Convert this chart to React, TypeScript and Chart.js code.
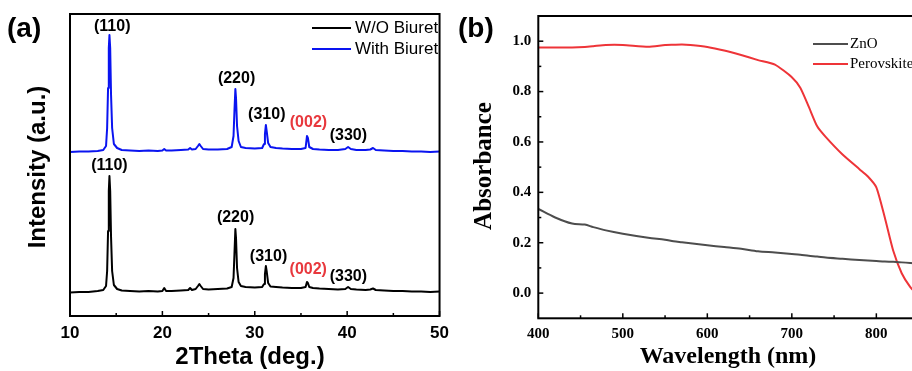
import React, { useEffect, useRef } from "react";
import { Chart, registerables } from "chart.js";

Chart.register(...registerables);

const SANS = "'Liberation Sans', Arial, Helvetica, sans-serif";
const SERIF = "'Liberation Serif', 'Times New Roman', Times, serif";

// ---------- Panel (a): XRD ----------
const xrdAngles = [10, 11, 12, 13, 13.6, 13.9, 14.02, 14.12, 14.2, 14.27, 14.35, 14.44, 14.56, 14.75, 15.1, 15.6, 16.5, 17.5, 18.5, 19.5, 20.0, 20.2, 20.4, 21, 22, 22.8, 23.0, 23.2, 23.6, 23.85, 24.0, 24.15, 24.4, 25, 26, 27, 27.5, 27.7, 27.8, 27.9, 27.97, 28.08, 28.25, 28.5, 29, 30, 30.8, 31.0, 31.1, 31.2, 31.3, 31.45, 31.7, 32.3, 33, 34, 35, 35.5, 35.65, 35.75, 35.9, 36.3, 37, 38, 39, 39.8, 40.1, 40.4, 41, 42, 42.5, 42.8, 43.1, 44, 45, 46, 47, 48, 49, 50];
const woBiuret = [23.5, 24, 24, 25, 26, 30, 45, 85, 125, 140, 125, 80, 45, 31, 27, 25.5, 25, 24.5, 25, 24.5, 25, 28, 25, 25, 25.5, 26, 28, 26, 27, 30, 32, 30, 27, 26.5, 27, 27.5, 29, 38, 62, 87, 78, 48, 34, 30, 29, 28.5, 29, 32, 42, 50, 44, 33, 29.5, 29, 28.5, 28, 28, 29, 34, 33, 29, 28, 27.5, 27, 26.5, 27, 29, 27, 26.5, 26, 26.5, 27.5, 26, 25.5, 25, 25, 24.5, 24.5, 24, 24.5];
const withBiuret = [164, 164.5, 164.5, 165, 166, 170, 188, 228, 268, 281, 268, 222, 188, 172, 168, 166, 165.5, 165, 165.5, 165, 165.5, 167, 165.5, 165.5, 166, 166.5, 168, 166.5, 167, 170, 172, 170, 167, 166.5, 166.5, 167, 169, 180, 205, 227, 218, 190, 175, 169, 168, 167.5, 168, 172, 182, 191, 184, 173, 169, 168, 167.5, 167, 167, 168, 180, 178, 169, 167, 166.5, 166, 166, 167, 169, 167, 166, 166, 166.5, 168, 166, 165.5, 165, 165, 164.5, 164.5, 164, 164.5];
const xrdSeriesNames = ["W/O Biuret", "With Biuret"];
const xrdSeriesColors = ["#000000", "#0a14f0"];
const xrdMajorTicks = [10, 20, 30, 40, 50];
const xrdMinorTicks = [15, 25, 35, 45];

const peakNames = ["(110)", "(220)", "(310)", "(002)", "(330)"];
const peakColors = ["#000000", "#000000", "#000000", "#e8383d", "#000000"];
const peakXWith = [14.57, 28.03, 31.3, 35.81, 40.13];
const peakYWith = [289.3, 237, 201.7, 193.3, 180];
const peakXWo = [14.27, 27.92, 31.49, 35.79, 40.13];
const peakYWo = [150, 98.7, 59.3, 46.7, 39.3];

// ---------- Panel (b): UV-vis ----------
const wavelengths = [400, 420, 440, 455, 465, 480, 500, 530, 550, 560, 570, 580, 600, 620, 640, 660, 680, 700, 710, 720, 730, 740, 760, 780, 790, 800, 810, 820, 830, 840, 850];
const znoAbs = [0.334, 0.3, 0.276, 0.272, 0.262, 0.249, 0.236, 0.22, 0.212, 0.206, 0.202, 0.198, 0.19, 0.183, 0.176, 0.166, 0.161, 0.155, 0.152, 0.148, 0.145, 0.141, 0.136, 0.131, 0.129, 0.127, 0.125, 0.124, 0.122, 0.12, 0.118];
const perovskiteAbs = [0.975, 0.975, 0.975, 0.977, 0.98, 0.985, 0.985, 0.978, 0.985, 0.986, 0.987, 0.985, 0.977, 0.963, 0.945, 0.925, 0.907, 0.857, 0.815, 0.74, 0.662, 0.62, 0.55, 0.492, 0.463, 0.42, 0.3, 0.168, 0.079, 0.025, -0.01];
const uvSeriesNames = ["ZnO", "Perovskite"];
const uvSeriesColors = ["#4d4d4d", "#ee3438"];
const uvXMajor = [400, 500, 600, 700, 800];
const uvXMinor = [450, 550, 650, 750, 850];
const uvYMajor = [0, 0.2, 0.4, 0.6, 0.8, 1.0];
const uvYMinor = [0.1, 0.3, 0.5, 0.7, 0.9];

function line(ctx: CanvasRenderingContext2D, x1: number, y1: number, x2: number, y2: number) {
  ctx.beginPath();
  ctx.moveTo(x1, y1);
  ctx.lineTo(x2, y2);
  ctx.stroke();
}

const xrdDecor = {
  id: "xrdDecor",
  afterDraw(chart: any) {
    const { ctx, chartArea: ca, scales } = chart;
    const x = scales.x, y = scales.y;
    ctx.save();
    ctx.strokeStyle = "#000";
    ctx.lineWidth = 2;
    ctx.strokeRect(ca.left, ca.top, ca.right - ca.left, ca.bottom - ca.top);
    ctx.lineWidth = 1.5;
    xrdMajorTicks.forEach((v) => { const p = x.getPixelForValue(v); line(ctx, p, ca.bottom, p, ca.bottom - 5); });
    xrdMinorTicks.forEach((v) => { const p = x.getPixelForValue(v); line(ctx, p, ca.bottom, p, ca.bottom - 3); });

    ctx.font = `bold 16px ${SANS}`;
    ctx.textAlign = "center";
    ctx.textBaseline = "middle";
    peakNames.forEach((n, i) => {
      ctx.fillStyle = peakColors[i];
      ctx.fillText(n, x.getPixelForValue(peakXWith[i]), y.getPixelForValue(peakYWith[i]));
      ctx.fillText(n, x.getPixelForValue(peakXWo[i]), y.getPixelForValue(peakYWo[i]));
    });

    // legend
    ctx.font = `17px ${SANS}`;
    ctx.textAlign = "left";
    xrdSeriesNames.forEach((n, i) => {
      const ly = 28 + i * 21;
      ctx.strokeStyle = xrdSeriesColors[i];
      ctx.lineWidth = 2;
      line(ctx, 312, ly, 351, ly);
      ctx.fillStyle = "#000";
      ctx.fillText(n, 355, ly);
    });

    // panel letter
    ctx.fillStyle = "#000";
    ctx.font = `bold 28px ${SANS}`;
    ctx.fillText("(a)", 7, 29);

    // titles
    ctx.font = `bold 24px ${SANS}`;
    ctx.textAlign = "center";
    ctx.fillText("2Theta (deg.)", 250, 357);
    ctx.translate(38, 167);
    ctx.rotate(-Math.PI / 2);
    ctx.fillText("Intensity (a.u.)", 0, 0);
    ctx.restore();
  },
};

const uvDecor = {
  id: "uvDecor",
  afterDraw(chart: any) {
    const { ctx, chartArea: ca, scales } = chart;
    const x = scales.x, y = scales.y;
    ctx.save();
    ctx.strokeStyle = "#000";
    ctx.lineWidth = 2;
    ctx.strokeRect(ca.left, ca.top, ca.right - ca.left, ca.bottom - ca.top);
    ctx.lineWidth = 1.5;
    uvXMajor.forEach((v) => { const p = x.getPixelForValue(v); line(ctx, p, ca.bottom, p, ca.bottom - 5); });
    uvXMinor.forEach((v) => { const p = x.getPixelForValue(v); line(ctx, p, ca.bottom, p, ca.bottom - 3); });
    uvYMajor.forEach((v) => { const p = y.getPixelForValue(v); line(ctx, ca.left, p, ca.left + 5, p); });
    uvYMinor.forEach((v) => { const p = y.getPixelForValue(v); line(ctx, ca.left, p, ca.left + 3, p); });

    // legend
    ctx.font = `15px ${SERIF}`;
    ctx.textAlign = "left";
    ctx.textBaseline = "middle";
    uvSeriesNames.forEach((n, i) => {
      const ly = 44 + i * 20;
      ctx.strokeStyle = uvSeriesColors[i];
      ctx.lineWidth = 2;
      line(ctx, 357, ly, 392, ly);
      ctx.fillStyle = "#000";
      ctx.fillText(n, 394, ly);
    });

    ctx.fillStyle = "#000";
    ctx.font = `bold 28px ${SANS}`;
    ctx.fillText("(b)", 2, 29);

    ctx.textAlign = "center";
    ctx.font = `bold 24px ${SERIF}`;
    ctx.fillText("Wavelength (nm)", 272, 357);
    ctx.font = `bold 25px ${SERIF}`;
    ctx.translate(29, 166);
    ctx.rotate(-Math.PI / 2);
    ctx.fillText("Absorbance", 0, 0);
    ctx.restore();
  },
};

function XrdChart() {
  const ref = useRef<HTMLCanvasElement>(null);
  useEffect(() => {
    const common = { borderWidth: 2, pointRadius: 0, tension: 0, borderJoinStyle: "round", borderCapStyle: "round" };
    const chart = new Chart(ref.current as HTMLCanvasElement, {
      type: "line",
      data: {
        datasets: [
          { label: xrdSeriesNames[0], data: xrdAngles.map((a, i) => ({ x: a, y: woBiuret[i] })), borderColor: xrdSeriesColors[0], ...common },
          { label: xrdSeriesNames[1], data: xrdAngles.map((a, i) => ({ x: a, y: withBiuret[i] })), borderColor: xrdSeriesColors[1], ...common },
        ],
      },
      options: {
        animation: false,
        responsive: false,
        devicePixelRatio: 1,
        layout: { padding: { left: 0, right: 11, top: 14, bottom: 0 } },
        plugins: { legend: { display: false }, tooltip: { enabled: false } },
        scales: {
          x: {
            type: "linear", min: 10, max: 50,
            grid: { display: false, drawTicks: false }, border: { display: false },
            afterBuildTicks: (s: any) => { s.ticks = xrdMajorTicks.map((v) => ({ value: v })); },
            afterFit: (s: any) => { s.height = 55; },
            ticks: { color: "#000", padding: 7, font: { family: SANS, size: 17, weight: "bold" }, maxRotation: 0, autoSkip: false },
          },
          y: {
            type: "linear", min: 0, max: 302,
            grid: { display: false, drawTicks: false }, border: { display: false },
            ticks: { display: false },
            afterFit: (s: any) => { s.width = 70; },
          },
        },
      },
      plugins: [xrdDecor],
    } as any);
    return () => chart.destroy();
  }, []);
  return <canvas ref={ref} width={456} height={371} style={{ position: "absolute", left: 0, top: 0, width: 456, height: 371 }} />;
}

function UvChart() {
  const ref = useRef<HTMLCanvasElement>(null);
  useEffect(() => {
    const chart = new Chart(ref.current as HTMLCanvasElement, {
      type: "line",
      data: {
        datasets: [
          { label: uvSeriesNames[0], data: wavelengths.map((w, i) => ({ x: w, y: znoAbs[i] })), borderColor: uvSeriesColors[0], borderWidth: 2, pointRadius: 0, tension: 0.3, borderJoinStyle: "round" },
          { label: uvSeriesNames[1], data: wavelengths.map((w, i) => ({ x: w, y: perovskiteAbs[i] })), borderColor: uvSeriesColors[1], borderWidth: 2, pointRadius: 0, tension: 0.2, borderJoinStyle: "round" },
        ],
      },
      options: {
        animation: false,
        responsive: false,
        devicePixelRatio: 1,
        layout: { padding: { left: 0, right: 11.4, top: 13.3, bottom: 0 } },
        plugins: { legend: { display: false }, tooltip: { enabled: false } },
        scales: {
          x: {
            type: "linear", min: 400, max: 850,
            grid: { display: false, drawTicks: false }, border: { display: false },
            afterBuildTicks: (s: any) => { s.ticks = uvXMajor.map((v) => ({ value: v })); },
            afterFit: (s: any) => { s.height = 52.7; },
            ticks: { color: "#000", padding: 7, font: { family: SERIF, size: 15, weight: "bold" }, maxRotation: 0, autoSkip: false },
          },
          y: {
            type: "linear", min: -0.1, max: 1.1,
            grid: { display: false, drawTicks: false }, border: { display: false },
            afterBuildTicks: (s: any) => { s.ticks = uvYMajor.map((v) => ({ value: v })); },
            afterFit: (s: any) => { s.width = 82.3; },
            ticks: { color: "#000", padding: 7, font: { family: SERIF, size: 15, weight: "bold" }, callback: (v: any) => Number(v).toFixed(1) },
          },
        },
      },
      plugins: [uvDecor],
    } as any);
    return () => chart.destroy();
  }, []);
  return <canvas ref={ref} width={474} height={371} style={{ position: "absolute", left: 456, top: 0, width: 474, height: 371 }} />;
}

export default function App() {
  return (
    <div style={{ position: "fixed", left: 0, top: 0, width: 912, height: 371, overflow: "hidden", background: "#fff" }}>
      <XrdChart />
      <UvChart />
    </div>
  );
}
